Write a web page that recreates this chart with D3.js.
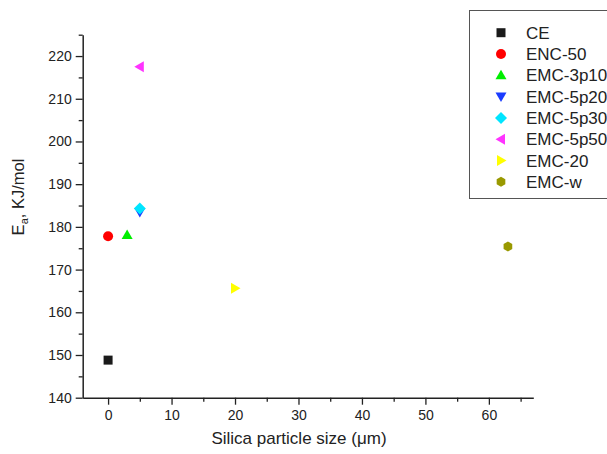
<!DOCTYPE html>
<html>
<head>
<meta charset="utf-8">
<script src="https://cdn.jsdelivr.net/npm/d3@7"></script>
<style>
body{margin:0;background:#fff;}
svg{display:block;font-family:"Liberation Sans",Arial,sans-serif;}
</style>
</head>
<body>
<svg id="chart" width="607" height="454"></svg>
<script>
const series = ["CE","ENC-50","EMC-3p10","EMC-5p20","EMC-5p30","EMC-5p50","EMC-20","EMC-w"];
const sizes = [0, 0, 3, 5, 5, 5, 20, 63];
const energies = [148.8, 177.8, 178.1, 183.5, 184.3, 217.5, 165.6, 175.4];
const colors = ["#1a1a1a","#ff0000","#00ee00","#1a3cff","#00e5ff","#ff33ff","#ffff00","#999900"];
const shapes = ["square","circle","up","down","diamond","left","right","hexagon"];
const xTicks = [0,10,20,30,40,50,60];
const yTicks = [140,150,160,170,180,190,200,210,220];

const svg = d3.select("#chart");
const x = d3.scaleLinear().domain([-4,67]).range([82.7,533.3]);
const y = d3.scaleLinear().domain([140,225]).range([397.7,34.7]);

function marker(shape){
  const p = d3.path();
  switch(shape){
    case "square": p.rect(-4.5,-4.5,9,9); break;
    case "circle": p.arc(0,0,5,0,2*Math.PI); break;
    case "up": p.moveTo(0,-5.5); p.lineTo(5.5,4); p.lineTo(-5.5,4); p.closePath(); break;
    case "down": p.moveTo(0,5.5); p.lineTo(5.5,-4); p.lineTo(-5.5,-4); p.closePath(); break;
    case "diamond": p.moveTo(0,-6); p.lineTo(6,0); p.lineTo(0,6); p.lineTo(-6,0); p.closePath(); break;
    case "left": p.moveTo(-5.5,0); p.lineTo(4,-5.5); p.lineTo(4,5.5); p.closePath(); break;
    case "right": p.moveTo(5.5,0); p.lineTo(-4,-5.5); p.lineTo(-4,5.5); p.closePath(); break;
    case "hexagon":
      for(let i=0;i<6;i++){const a=Math.PI/6+i*Math.PI/3; const px=5*Math.cos(a), py=5*Math.sin(a); if(i===0)p.moveTo(px,py); else p.lineTo(px,py);} p.closePath(); break;
  }
  return p.toString();
}

// X axis
const xAxis = d3.axisBottom(x).tickValues(xTicks).tickSize(7).tickSizeOuter(0).tickPadding(5);
svg.append("g").attr("transform",`translate(0,${y(140)})`).call(xAxis);
const xMinor = d3.range(5,67,10);
svg.append("g").attr("transform",`translate(0,${y(140)})`)
  .call(d3.axisBottom(x).tickValues(xMinor).tickSize(4).tickSizeOuter(0).tickFormat(""))
  .select(".domain").remove();

// Y axis
const yAxis = d3.axisLeft(y).tickValues(yTicks).tickSize(7).tickSizeOuter(0).tickPadding(4);
svg.append("g").attr("transform",`translate(${x(-4)},0)`).call(yAxis);
const yMinor = d3.range(145,226,10);
svg.append("g").attr("transform",`translate(${x(-4)},0)`)
  .call(d3.axisLeft(y).tickValues(yMinor).tickSize(4).tickSizeOuter(0).tickFormat(""))
  .select(".domain").remove();

svg.selectAll(".domain").attr("stroke","#222").attr("stroke-width",1.5);
svg.selectAll(".tick line").attr("stroke","#222").attr("stroke-width",1.3);
svg.selectAll(".tick text").attr("font-size",14).attr("fill","#222")
  .attr("font-family","'Liberation Sans',Arial,sans-serif");

// Axis titles
svg.append("text").attr("x",299).attr("y",444).attr("text-anchor","middle")
  .attr("font-size",17).attr("fill","#222").text("Silica particle size (\u03bcm)");
const yl = svg.append("text").attr("transform","translate(24,197) rotate(-90)")
  .attr("text-anchor","middle").attr("font-size",16.5).attr("fill","#222");
yl.append("tspan").text("E");
yl.append("tspan").attr("font-size",11).attr("dy",4).text("a");
yl.append("tspan").attr("dy",-4).text(", KJ/mol");

// Points
svg.append("g").selectAll("path").data(series).join("path")
  .attr("d",(d,i)=>marker(shapes[i]))
  .attr("transform",(d,i)=>`translate(${x(sizes[i])},${y(energies[i])})`)
  .attr("fill",(d,i)=>colors[i]);

// Legend
const lg = svg.append("g");
lg.append("rect").attr("x",469.5).attr("y",10.5).attr("width",150).attr("height",188)
  .attr("fill","#fff").attr("stroke","#555").attr("stroke-width",1);
series.forEach((s,i)=>{
  const cy = 32.7 + i*21.3;
  lg.append("path").attr("d",marker(shapes[i])).attr("transform",`translate(501,${cy})`).attr("fill",colors[i]);
  lg.append("text").attr("x",526).attr("y",cy+6).attr("font-size",17).attr("fill","#222").text(s);
});
</script>
</body>
</html>
